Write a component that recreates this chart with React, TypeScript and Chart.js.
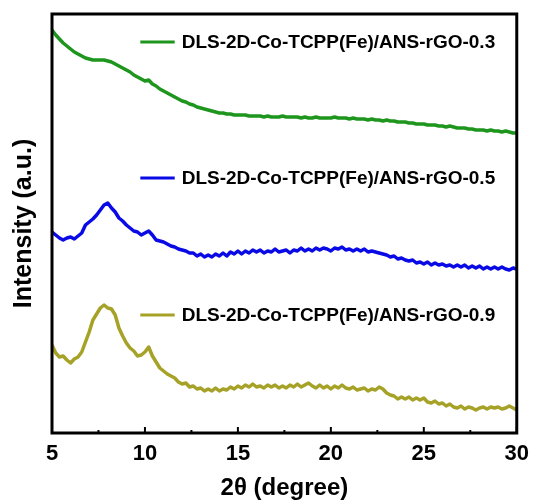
import React, { useEffect, useRef } from "react";
import { Chart, registerables } from "chart.js";

Chart.register(...registerables);

// 2θ sampling (degree)
const twoTheta = [
  5.0, 5.2, 5.4, 5.6, 5.8, 6.0, 6.2, 6.4, 6.6, 6.8,
  7.0, 7.2, 7.4, 7.6, 7.8, 8.0, 8.2, 8.4, 8.6, 8.8,
  9.0, 9.2, 9.4, 9.6, 9.8, 10.0, 10.2, 10.4, 10.6, 10.8,
  11.0, 11.2, 11.4, 11.6, 11.8, 12.0, 12.2, 12.4, 12.6, 12.8,
  13.0, 13.2, 13.4, 13.6, 13.8, 14.0, 14.2, 14.4, 14.6, 14.8,
  15.0, 15.2, 15.4, 15.6, 15.8, 16.0, 16.2, 16.4, 16.6, 16.8,
  17.0, 17.2, 17.4, 17.6, 17.8, 18.0, 18.2, 18.4, 18.6, 18.8,
  19.0, 19.2, 19.4, 19.6, 19.8, 20.0, 20.2, 20.4, 20.6, 20.8,
  21.0, 21.2, 21.4, 21.6, 21.8, 22.0, 22.2, 22.4, 22.6, 22.8,
  23.0, 23.2, 23.4, 23.6, 23.8, 24.0, 24.2, 24.4, 24.6, 24.8,
  25.0, 25.2, 25.4, 25.6, 25.8, 26.0, 26.2, 26.4, 26.6, 26.8,
  27.0, 27.2, 27.4, 27.6, 27.8, 28.0, 28.2, 28.4, 28.6, 28.8,
  29.0, 29.2, 29.4, 29.6, 29.8, 30.0,
];

// Intensity (a.u., offset stacked)
const rGO03 = [
  403, 398, 394, 390, 387, 384, 381, 379, 377, 375,
  374, 373, 373, 373, 373, 372, 371, 369, 367, 365,
  363, 361, 358, 356, 354, 352, 353, 349, 347, 344,
  342, 340, 338, 336, 334, 332, 331, 329, 328, 326,
  325, 324, 323, 322, 321, 320, 320, 319, 319, 318,
  318, 318, 318, 317, 317, 317, 317, 316, 317, 316,
  316, 316, 317, 316, 316, 316, 316, 315, 316, 315,
  315, 316, 315, 315, 315, 315, 316, 315, 315, 315,
  314, 315, 314, 314, 314, 313, 314, 313, 313, 312,
  313, 312, 312, 311, 311, 311, 310, 310, 309, 309,
  309, 308, 308, 308, 307, 307, 306, 307, 306, 305,
  305, 305, 304, 304, 303, 303, 303, 302, 303, 302,
  302, 301, 302, 301, 300, 300,
];

const rGO05 = [
  201, 198, 195, 193, 195, 196, 194, 197, 200, 208,
  211, 214, 218, 223, 228, 230, 225, 221, 215, 212,
  208, 205, 202, 201, 198, 200, 202, 198, 193, 192,
  191, 189, 187, 186, 184, 183, 182, 180, 180, 177,
  179, 176, 178, 176, 179, 177, 180, 177, 181, 179,
  182, 179, 182, 180, 183, 181, 183, 180, 182, 181,
  184, 181, 182, 183, 180, 183, 182, 185, 182, 184,
  182, 185, 183, 185, 184, 182, 185, 184, 186, 183,
  184, 182, 184, 182, 184, 181, 182, 181, 180, 179,
  178, 176, 177, 174, 175, 173, 172, 173, 170, 171,
  169, 171, 168, 170, 168, 169, 167, 168, 166, 168,
  166, 168, 165, 167, 165, 167, 164, 166, 164, 166,
  164, 166, 164, 163, 165, 164,
];

const rGO09 = [
  88, 80, 76, 77, 73, 70, 74, 76, 81, 91,
  101, 113, 119, 125, 128, 125, 124, 118, 105, 97,
  90, 85, 82, 77, 78, 81, 86, 77, 71, 65,
  62, 59, 57, 55, 51, 49, 50, 46, 47, 44,
  45, 42, 44, 42, 45, 42, 44, 43, 46, 44,
  47, 45, 48, 46, 49, 46, 47, 45, 48, 46,
  48, 45, 47, 45, 48, 46, 49, 46, 48, 50,
  47, 45, 48, 45, 47, 44, 47, 45, 48, 45,
  44, 46, 43, 44, 45, 42, 44, 43, 46, 44,
  40, 38, 37, 34, 36, 34, 36, 33, 35, 33,
  35, 31, 30, 32, 29, 30, 27, 29, 26, 25,
  27, 24, 26, 25, 23, 25, 26, 24, 26, 25,
  26, 24, 25, 27, 25, 23,
];

const seriesLabels = [
  "DLS-2D-Co-TCPP(Fe)/ANS-rGO-0.3",
  "DLS-2D-Co-TCPP(Fe)/ANS-rGO-0.5",
  "DLS-2D-Co-TCPP(Fe)/ANS-rGO-0.9",
];
const seriesColors = ["#1E961E", "#0A0AE6", "#A5A227"];
const seriesValues = [rGO03, rGO05, rGO09];

const xMajorTicks = [5, 10, 15, 20, 25, 30];
const xMinorTicks = [7.5, 12.5, 17.5, 22.5, 27.5];
// legend row anchors in data units (2θ start/end, intensity level)
const legendStart = 9.75;
const legendEnd = 11.6;
const legendLevels = [391, 255, 118];

const FONT = "'Liberation Sans', Arial, Helvetica, sans-serif";

const framePlugin = {
  id: "frameTicks",
  afterDatasetsDraw(chart: any) {
    const { ctx, chartArea } = chart;
    const xs = chart.scales.x;
    ctx.save();
    ctx.strokeStyle = "#000";
    ctx.lineWidth = 2;
    xMajorTicks.forEach((v) => {
      const px = xs.getPixelForValue(v);
      ctx.beginPath();
      ctx.moveTo(px, chartArea.bottom);
      ctx.lineTo(px, chartArea.bottom - 6);
      ctx.stroke();
    });
    xMinorTicks.forEach((v) => {
      const px = xs.getPixelForValue(v);
      ctx.beginPath();
      ctx.moveTo(px, chartArea.bottom);
      ctx.lineTo(px, chartArea.bottom - 3);
      ctx.stroke();
    });
    ctx.lineWidth = 3;
    ctx.strokeRect(
      chartArea.left,
      chartArea.top,
      chartArea.right - chartArea.left,
      chartArea.bottom - chartArea.top
    );
    ctx.restore();
  },
};

const legendPlugin = {
  id: "inlineLegend",
  afterDraw(chart: any) {
    const { ctx } = chart;
    const xs = chart.scales.x;
    const ys = chart.scales.y;
    ctx.save();
    chart.data.datasets.forEach((ds: any, i: number) => {
      const y = ys.getPixelForValue(legendLevels[i]);
      const x0 = xs.getPixelForValue(legendStart);
      const x1 = xs.getPixelForValue(legendEnd);
      ctx.strokeStyle = ds.borderColor;
      ctx.lineWidth = 3;
      ctx.beginPath();
      ctx.moveTo(x0, y);
      ctx.lineTo(x1, y);
      ctx.stroke();
      ctx.fillStyle = "#000";
      ctx.font = `bold 19px ${FONT}`;
      ctx.textBaseline = "middle";
      ctx.textAlign = "left";
      ctx.fillText(ds.label, x1 + 7, y + 1);
    });
    ctx.restore();
  },
};

export default function App() {
  const canvasRef = useRef<HTMLCanvasElement | null>(null);

  useEffect(() => {
    if (!canvasRef.current) return;
    const chart = new Chart(canvasRef.current, {
      type: "line",
      data: {
        datasets: seriesValues.map((vals, i) => ({
          label: seriesLabels[i],
          data: twoTheta.map((t, j) => ({ x: t, y: vals[j] })),
          borderColor: seriesColors[i],
          backgroundColor: seriesColors[i],
          borderWidth: 3.5,
          pointRadius: 0,
          tension: 0,
          borderJoinStyle: "round",
          fill: false,
        })),
      },
      options: {
        responsive: false,
        animation: false,
        layout: { padding: { top: 14, right: 18, left: 0, bottom: 0 } },
        plugins: {
          legend: { display: false },
          tooltip: { enabled: false },
        },
        scales: {
          x: {
            type: "linear",
            min: 5,
            max: 30,
            afterFit: (s: any) => {
              s.height = 70;
            },
            afterBuildTicks: (s: any) => {
              s.ticks = xMajorTicks.map((v) => ({ value: v }));
            },
            grid: { display: false, drawTicks: false },
            border: { display: false },
            ticks: {
              color: "#000",
              padding: 8,
              maxRotation: 0,
              font: { family: FONT, size: 22, weight: "bold" },
            },
            title: {
              display: true,
              text: "2θ (degree)",
              color: "#000",
              padding: { top: 0, bottom: 0 },
              font: { family: FONT, size: 24, weight: "bold" },
            },
          },
          y: {
            type: "linear",
            min: 0,
            max: 419,
            afterFit: (s: any) => {
              s.width = 52;
            },
            grid: { display: false, drawTicks: false },
            border: { display: false },
            ticks: { display: false },
            title: {
              display: true,
              text: "Intensity (a.u.)",
              color: "#000",
              padding: { top: 9, bottom: 0 },
              font: { family: FONT, size: 25, weight: "bold" },
            },
          },
        },
      },
      plugins: [framePlugin, legendPlugin],
    } as any);
    return () => chart.destroy();
  }, []);

  return (
    <div
      style={{
        position: "absolute",
        left: 0,
        top: 0,
        width: 537,
        height: 503,
        background: "#fff",
      }}
    >
      <canvas ref={canvasRef} width={537} height={503} />
    </div>
  );
}
